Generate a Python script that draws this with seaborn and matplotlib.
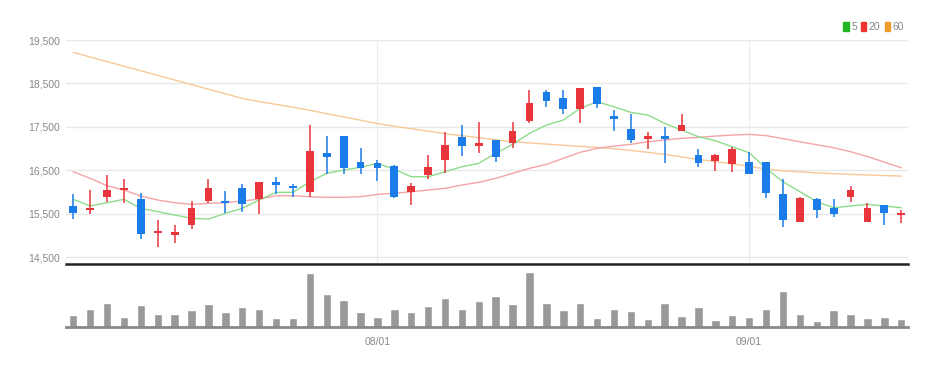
import numpy as np
import pandas as pd
import matplotlib
matplotlib.use("Agg")
import matplotlib.pyplot as plt
from matplotlib.patches import Patch
import seaborn as sns

# ---------------- data ----------------
opens  = [15687, 15588, 15894, 16048, 15834, 15066, 15013, 15243, 15802, 15802,
          16087, 15841, 16225, 16147, 15995, 16892, 17290, 16699, 16662, 16600,
          16009, 16393, 16738, 17274, 17060, 17198, 17122, 17642, 18309, 18157,
          17904, 18410, 17757, 17451, 17214, 17297, 17405, 16853, 16715, 16639,
          16699, 16699, 15956, 15319, 15834, 15641, 15894, 15305, 15703, 15480]
highs  = [15956, 16048, 16393, 16301, 15972, 15358, 15243, 15802, 16294, 16032,
          16186, 16225, 16340, 16186, 17543, 17290, 17290, 17007, 16738, 16623,
          16202, 16853, 17389, 17543, 17605, 17198, 17605, 18348, 18348, 18348,
          18401, 18424, 17888, 17789, 17375, 17490, 17796, 16991, 16869, 17030,
          16929, 16699, 16294, 15880, 15857, 15834, 16147, 15742, 15703, 15588]
lows   = [15374, 15496, 15779, 15742, 14914, 14744, 14836, 15144, 15742, 15512,
          15549, 15496, 15956, 15880, 15894, 16416, 16409, 16416, 16262, 15857,
          15703, 16301, 16432, 16837, 16892, 16699, 17007, 17596, 17950, 17796,
          17596, 17927, 17405, 17136, 16991, 16662, 17405, 16570, 16485, 16455,
          16409, 15857, 15204, 15319, 15397, 15434, 15779, 15305, 15243, 15282]
closes = [15526, 15641, 16048, 16101, 15029, 15112, 15089, 15627, 16101, 15742,
          15719, 16225, 16163, 16101, 16945, 16800, 16547, 16561, 16561, 15894,
          16140, 16584, 17083, 17067, 17136, 16814, 17405, 18042, 18102, 17911,
          18387, 18019, 17674, 17198, 17297, 17214, 17543, 16676, 16853, 16991,
          16409, 15972, 15358, 15857, 15588, 15496, 16048, 15641, 15512, 15526]
ma5    = [15834, 15680, 15756, 15834, 15627, 15549, 15473, 15397, 15381, 15512,
          15627, 15818, 15995, 15995, 16239, 16432, 16508, 16570, 16662, 16524,
          16354, 16354, 16469, 16584, 16662, 16892, 17099, 17352, 17543, 17658,
          17927, 18079, 17964, 17835, 17773, 17582, 17428, 17274, 17182, 17044,
          16906, 16547, 16239, 16009, 15779, 15641, 15680, 15719, 15680, 15641]
ma20   = [16469, 16317, 16147, 16048, 15910, 15818, 15756, 15719, 15742, 15756,
          15795, 15841, 15917, 15917, 15894, 15880, 15880, 15894, 15949, 15972,
          16009, 16048, 16087, 16163, 16225, 16317, 16432, 16547, 16639, 16777,
          16915, 17007, 17060, 17099, 17159, 17198, 17237, 17260, 17290, 17313,
          17328, 17300, 17230, 17159, 17090, 17020, 16929, 16820, 16690, 16561]
ma60   = [19215, 19109, 19003, 18897, 18792, 18686, 18580, 18474, 18368, 18263,
          18157, 18083, 18018, 17953, 17882, 17806, 17730, 17654, 17578, 17517,
          17460, 17402, 17345, 17299, 17252, 17206, 17159, 17132, 17105, 17078,
          17053, 17029, 16996, 16958, 16915, 16868, 16812, 16753, 16702, 16653,
          16591, 16532, 16492, 16466, 16443, 16423, 16408, 16395, 16382, 16369]
volumes = [117, 177, 243, 100, 217, 127, 127, 167, 227, 150,
           200, 177, 93, 93, 543, 333, 267, 150, 100, 177,
           150, 210, 293, 177, 260, 310, 233, 550, 243, 167,
           243, 90, 183, 160, 83, 243, 107, 200, 67, 117,
           100, 183, 360, 133, 60, 167, 127, 93, 100, 77]
price_ticks = [14500, 15500, 16500, 17500, 18500, 19500]
ma_labels = ["5", "20", "60"]

dates = [d for d in pd.bdate_range("2023-07-06", "2023-09-14")
         if d.strftime("%m/%d") != "08/15"]
date_labels = [d.strftime("%m/%d") for d in dates]
month_ticks = ["08/01", "09/01"]

# ---------------- style ----------------
sns.set_style("white")
plt.rcParams["font.family"] = ["Liberation Sans Narrow", "Liberation Sans", "DejaVu Sans"]

UP = "#e8353b"
DOWN = "#1a7ce8"
C5, C20, C60 = "#8edc8a", "#f4a4a8", "#f8c898"
LABEL = "#888888"

df = pd.DataFrame({"i": np.arange(len(opens)), "open": opens, "high": highs,
                   "low": lows, "close": closes, "ma5": ma5, "ma20": ma20,
                   "ma60": ma60, "vol": volumes, "date": date_labels})

fig = plt.figure(figsize=(9.48, 3.67), dpi=100)
left, right = 66 / 948, 908 / 948
ax = fig.add_axes([left, 1 - 264 / 367, right - left, (264 - 40) / 367])
axv = fig.add_axes([left, 1 - 327 / 367, right - left, (327 - 266) / 367], sharex=ax)

# gridlines
for t in price_ticks:
    ax.axhline(t, color="#e8e8e8", lw=1.0, zorder=0)
tick_pos = [date_labels.index(m) for m in month_ticks]
for p in tick_pos:
    ax.axvline(p, color="#ececec", lw=0.8, zorder=0)

# MA lines
sns.lineplot(data=df, x="i", y="ma60", ax=ax, color=C60, lw=1.0, zorder=2)
sns.lineplot(data=df, x="i", y="ma20", ax=ax, color=C20, lw=1.0, zorder=2)
sns.lineplot(data=df, x="i", y="ma5", ax=ax, color=C5, lw=1.0, zorder=2)

# candles
col = [UP if c >= o else DOWN for o, c in zip(opens, closes)]
ax.vlines(df["i"], df["low"], df["high"], colors=col, lw=1.1, zorder=3)
bottoms = np.minimum(df["open"], df["close"])
heights = np.maximum(np.abs(df["close"] - df["open"]), 45)
ax.bar(df["i"], heights, bottom=bottoms, width=0.46, color=col, zorder=4, linewidth=0)

ax.set_ylim(14346, 19500)
ax.set_xlim(-0.43, 49.4)
ax.set_yticks(price_ticks)
ax.set_yticklabels([f"{t:,}" for t in price_ticks])
ax.tick_params(axis="y", length=0, pad=4, labelsize=7.5, labelcolor=LABEL)
ax.tick_params(axis="x", length=0, labelbottom=False)
ax.set_xlabel("")
ax.set_ylabel("")
for s in ["top", "right", "left"]:
    ax.spines[s].set_visible(False)
ax.spines["bottom"].set_color("#222222")
ax.spines["bottom"].set_linewidth(1.8)

# volume
sns.barplot(data=df, x="i", y="vol", ax=axv, color="#999999", saturation=1,
            width=0.5, native_scale=True, zorder=2)
axv.set_ylim(0, max(volumes) * 61 / 55)
axv.set_xlim(-0.43, 49.4)
axv.set_yticks([])
axv.set_xticks(tick_pos)
axv.set_xticklabels(month_ticks)
axv.tick_params(axis="x", length=4, width=1, color="#555555", pad=3,
                labelsize=7.5, labelcolor=LABEL)
axv.set_xlabel("")
axv.set_ylabel("")
for s in ["top", "right", "left"]:
    axv.spines[s].set_visible(False)
axv.spines["bottom"].set_color("#888888")
axv.spines["bottom"].set_linewidth(2)

# legend
handles = [Patch(color="#22b522"), Patch(color="#ee3333"), Patch(color="#f39a2c")]
leg = fig.legend(handles, ma_labels, loc="upper right", bbox_to_anchor=(0.958, 0.952),
                 ncol=3, frameon=False, fontsize=7.5, handlelength=0.5, handleheight=0.9,
                 handletextpad=0.25, columnspacing=0.4, borderaxespad=0)
for t in leg.get_texts():
    t.set_color(LABEL)

fig.savefig("out.png", dpi=100)
